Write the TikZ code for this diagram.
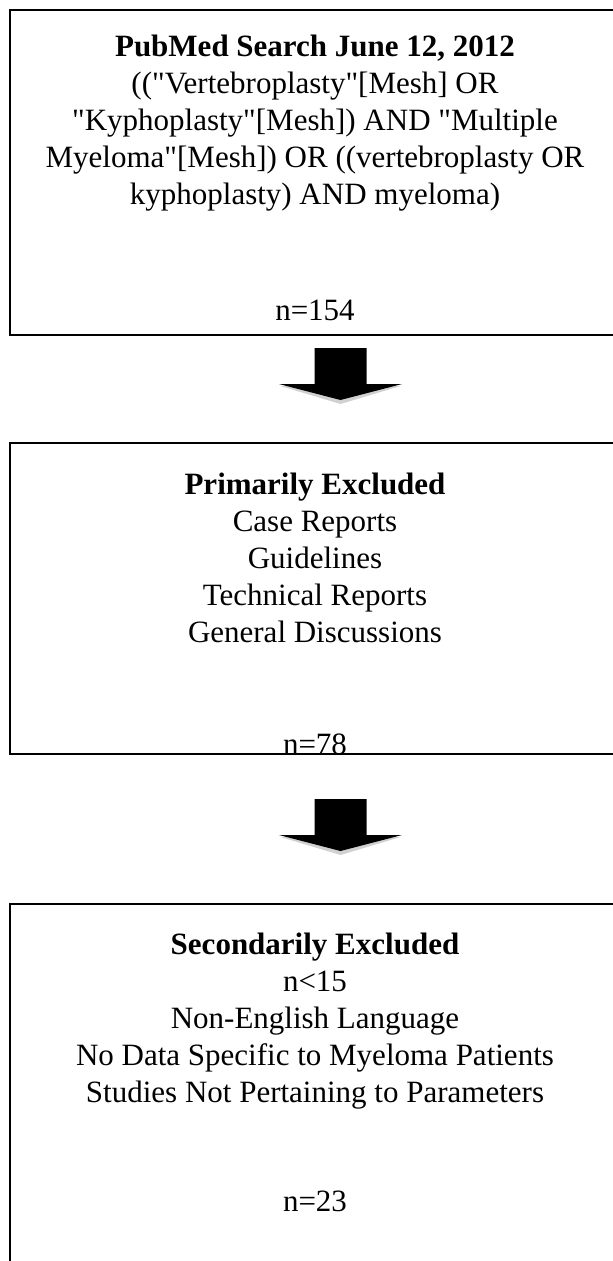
\documentclass[tikz,border=0pt]{standalone}
\usepackage{fontspec}
\setmainfont{Liberation Serif}[Ligatures=TeXOff]
\usetikzlibrary{calc,positioning}

\begin{document}
\begin{tikzpicture}[x=1pt,y=-1pt,
    box/.style={draw,line width=2pt,anchor=north west,minimum width=610pt,inner sep=0pt},
    txt/.style={align=center,inner sep=0pt,font=\fontsize{31}{37}\selectfont}]
    \useasboundingbox (0,0) rectangle (613,1261);
    \clip (0,0) rectangle (613,1261);
    % the three boxes, cut off at the right
    \node[box,minimum height=325pt] (B1) at (9,9) {};
    \node[box,minimum height=311pt] (B2) at (9,442) {};
    \node[box,minimum height=400pt] (B3) at (9,903) {};
    % box texts
    \node[txt,below=26pt of B1.north] (srch)
        {\textbf{PubMed Search June 12, 2012}\\
         (("Vertebroplasty"[Mesh] OR\\
         "Kyphoplasty"[Mesh]) AND "Multiple\\
         Myeloma"[Mesh]) OR ((vertebroplasty OR\\
         kyphoplasty) AND myeloma)};
    \node[txt,anchor=base] (n1) at ($(B1.south)+(0,-16)$) {n=154};
    \node[txt,below=31pt of B2.north] (prim)
        {\textbf{Primarily Excluded}\\
         Case Reports\\
         Guidelines\\
         Technical Reports\\
         General Discussions};
    \node[txt,anchor=base] (n2) at ($(B2.south)+(0,-1)$) {n=78};
    \node[txt,below=30pt of B3.north] (sec)
        {\textbf{Secondarily Excluded}\\
         n<15\\
         Non-English Language\\
         No Data Specific to Myeloma Patients\\
         Studies Not Pertaining to Parameters};
    \node[txt,anchor=base] (n3) at ($(B3.north)+(0,308)$) {n=23};
    % block arrows between the boxes
    \coordinate (a1) at ($(B1.south)+(25.5,12)$);
    \coordinate (a2) at ($(B2.south)+(25.5,44)$);
    \foreach \a in {a1,a2} {
        \fill[black!18,shift={(\a)}] (-60,38) -- (0,56) -- (60,38) -- cycle;
        \fill[shift={(\a)}] (-26,0) -- (26,0) -- (26,36) -- (61.5,36)
            -- (0,52) -- (-61.5,36) -- (-26,36) -- cycle;
    }
\end{tikzpicture}
\end{document}
